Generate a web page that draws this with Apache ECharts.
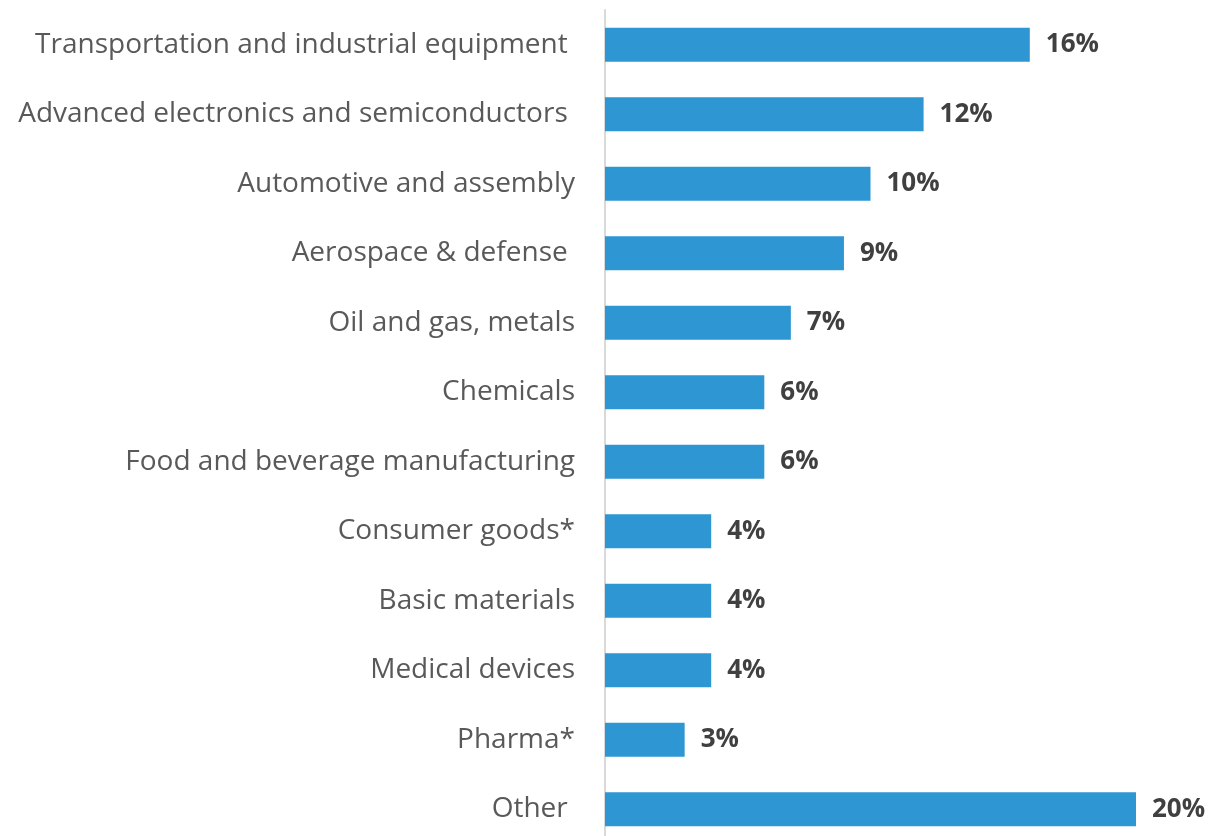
<!DOCTYPE html>
<html>
<head>
<meta charset="utf-8">
<script src="https://cdn.jsdelivr.net/npm/echarts@6/dist/echarts.min.js"></script>
<style>
  html, body { margin: 0; padding: 0; background: #ffffff; }
  #chart { width: 1224px; height: 836px; }
</style>
</head>
<body>
<div id="chart"></div>
<script>
// Industry categories, top to bottom
const categories = [
  'Transportation and industrial equipment ',
  'Advanced electronics and semiconductors ',
  'Automotive and assembly',
  'Aerospace & defense ',
  'Oil and gas, metals',
  'Chemicals',
  'Food and beverage manufacturing',
  'Consumer goods*',
  'Basic materials',
  'Medical devices',
  'Pharma*',
  'Other '
];

// Share of each industry, in percent
const shares = [16, 12, 10, 9, 7, 6, 6, 4, 4, 4, 3, 20];

const FONT = "'Open Sans', sans-serif";

const chart = echarts.init(document.getElementById('chart'), null, { renderer: 'canvas' });

chart.setOption({
  animation: false,
  backgroundColor: '#ffffff',
  grid: {
    left: 605, right: 88, top: 10, height: 834,
    containLabel: false,
    outerBoundsMode: 'none'
  },
  xAxis: {
    type: 'value',
    min: 0,
    max: 20,
    show: false
  },
  yAxis: {
    type: 'category',
    data: categories,
    inverse: true,
    axisLine: { show: true, lineStyle: { color: '#d9d9d9', width: 2 } },
    axisTick: { show: false },
    axisLabel: {
      margin: 30,
      color: '#595959',
      fontFamily: FONT,
      fontSize: 28
    }
  },
  series: [{
    type: 'bar',
    data: shares,
    barWidth: 34,
    itemStyle: { color: '#2e96d2' },
    label: {
      show: true,
      position: 'right',
      distance: 16,
      formatter: p => p.value + '%',
      color: '#404040',
      fontFamily: FONT,
      fontSize: 26,
      fontWeight: 'bold'
    }
  }]
});
</script>
</body>
</html>
